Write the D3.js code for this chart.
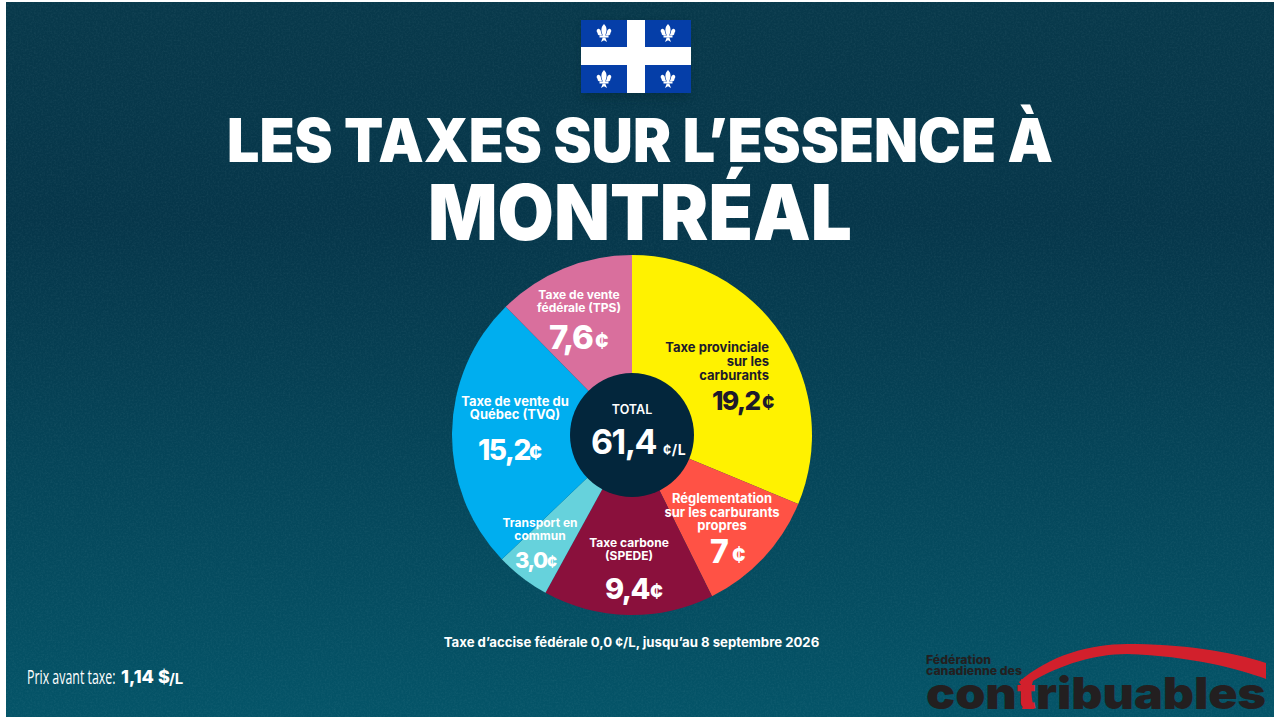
<!DOCTYPE html>
<html>
<head>
<meta charset="utf-8">
<style>
html, body { margin: 0; padding: 0; background: #fff; overflow: hidden; }
svg { display: block; }
text { font-family: Inter, "Noto Sans", sans-serif; }
</style>
</head>
<body>
<script src="https://cdn.jsdelivr.net/npm/d3@7"></script>
<script>
var categories = ["Taxe provinciale sur les carburants", "Réglementation sur les carburants propres",
  "Taxe carbone (SPEDE)", "Transport en commun", "Taxe de vente du Québec (TVQ)", "Taxe de vente fédérale (TPS)"];
var values = [19.2, 7, 9.4, 3.0, 15.2, 7.6];
var valueLabels = ["19,2", "7", "9,4", "3,0", "15,2", "7,6"];
var colors = ["#fff200", "#ff5245", "#8a103c", "#66d2dc", "#00aeef", "#d96f9d"];
var textColors = ["#1d1a2b", "#fff", "#fff", "#fff", "#fff", "#fff"];
var labelLines = [
  ["Taxe provinciale", "sur les", "carburants"],
  ["Réglementation", "sur les carburants", "propres"],
  ["Taxe carbone", "(SPEDE)"],
  ["Transport en", "commun"],
  ["Taxe de vente du", "Québec (TVQ)"],
  ["Taxe de vente", "fédérale (TPS)"]
];

var width = 1280, height = 720;
var cx = 632, cy = 435, outer = 180, inner = 62;

var svg = d3.select("body").append("svg")
    .attr("width", width)
    .attr("height", height);

var defs = svg.append("defs");
var bg = defs.append("linearGradient").attr("id", "bg")
    .attr("x1", 0).attr("y1", 0).attr("x2", 0).attr("y2", 1);
bg.append("stop").attr("offset", "0%").attr("stop-color", "#08394b");
bg.append("stop").attr("offset", "30%").attr("stop-color", "#06364a");
bg.append("stop").attr("offset", "100%").attr("stop-color", "#045468");

var grain = defs.append("filter").attr("id", "grain")
    .attr("x", 0).attr("y", 0).attr("width", 1).attr("height", 1);
grain.append("feTurbulence").attr("type", "fractalNoise")
    .attr("baseFrequency", 0.55).attr("numOctaves", 2).attr("seed", 4);
grain.append("feColorMatrix").attr("type", "matrix")
    .attr("values", "0 0 0 0 0.5  0 0 0 0 0.7  0 0 0 0 0.75  1.1 0 0 0 -0.42");

var shade = defs.append("filter").attr("id", "shade")
    .attr("x", "-20%").attr("y", "-20%").attr("width", "140%").attr("height", "150%");
shade.append("feGaussianBlur").attr("stdDeviation", 5);

svg.append("rect")
    .attr("x", 6).attr("y", 2)
    .attr("width", 1268).attr("height", 715)
    .attr("fill", "url(#bg)");
svg.append("rect")
    .attr("x", 6).attr("y", 2)
    .attr("width", 1268).attr("height", 715)
    .attr("filter", "url(#grain)")
    .attr("opacity", 0.11);

// flag
var flag = svg.append("g").attr("transform", "translate(581,20)");
flag.append("rect").attr("x", 2).attr("y", 5).attr("width", 106).attr("height", 73)
    .attr("fill", "#04202c").attr("opacity", 0.35).attr("filter", "url(#shade)");
flag.append("rect").attr("width", 110).attr("height", 73).attr("fill", "#053ea8");
flag.append("rect").attr("x", 46).attr("width", 18).attr("height", 73).attr("fill", "#fff");
flag.append("rect").attr("y", 27).attr("width", 110).attr("height", 18).attr("fill", "#fff");
[[23, 13.5], [87, 13.5], [23, 59.5], [87, 59.5]].forEach(function(p) {
  var g = flag.append("g").attr("transform", "translate(" + p[0] + "," + p[1] + ")")
      .attr("fill", "#fff");
  g.append("path").attr("d", "M0,-9.5C3,-6.5 3.2,-3 1.5,1L1.5,3L-1.5,3L-1.5,1C-3.2,-3 -3,-6.5 0,-9.5Z");
  g.append("path").attr("d", "M1.4,2C3.4,-0.5 2.6,-3.8 4.8,-4.6C7.4,-5.2 8,-1.8 6.4,-0.6C6.6,1.4 4.6,2.6 1.4,2Z");
  g.append("path").attr("d", "M-1.4,2C-3.4,-0.5 -2.6,-3.8 -4.8,-4.6C-7.4,-5.2 -8,-1.8 -6.4,-0.6C-6.6,1.4 -4.6,2.6 -1.4,2Z");
  g.append("rect").attr("x", -4.5).attr("y", 2.4).attr("width", 9).attr("height", 1.6);
  g.append("path").attr("d", "M-1.3,4L1.3,4L3,8.5L0,6.8L-3,8.5Z");
});

// titles
svg.append("text")
    .attr("x", 227).attr("y", 162)
    .attr("textLength", 826).attr("lengthAdjust", "spacingAndGlyphs")
    .attr("fill", "#fff")
    .style("font-size", "60px")
    .style("font-weight", 900)
    .text("LES TAXES SUR L’ESSENCE À");
svg.append("text")
    .attr("x", 428).attr("y", 240)
    .attr("textLength", 424).attr("lengthAdjust", "spacingAndGlyphs")
    .attr("fill", "#fff")
    .style("font-size", "77px")
    .style("font-weight", 900)
    .text("MONTRÉAL");

// pie
var pie = d3.pie().sort(null)(values);
var arc = d3.arc().innerRadius(0).outerRadius(outer);

var chart = svg.append("g").attr("transform", "translate(" + cx + "," + cy + ")");
chart.selectAll("path.slice")
    .data(pie)
  .enter().append("path")
    .attr("class", "slice")
    .attr("d", arc)
    .attr("fill", function(d, i) { return colors[i]; });

chart.append("circle").attr("r", inner).attr("fill", "#03263c");

// slice labels, vx is the left edge of the number, cx the left edge of the cent sign
var labelPos = [
  { x: 769, y: 352, lh: 14, anchor: "end", vx: 712, cx: 762, vy: 410, size: 13 },
  { x: 722, y: 503, lh: 13.5, anchor: "middle", vx: 710, cx: 732, vy: 563, size: 13 },
  { x: 629, y: 547, lh: 13, anchor: "middle", vx: 605, cx: 650, vy: 599, size: 12 },
  { x: 540, y: 527, lh: 13, anchor: "middle", vx: 515, cx: 547, vy: 568, size: 12 },
  { x: 515, y: 406, lh: 13, anchor: "middle", vx: 478, cx: 529, vy: 460, size: 13 },
  { x: 579, y: 299, lh: 12.5, anchor: "middle", vx: 549, cx: 595, vy: 349, size: 12 }
];
var valueSizes = [26, 32, 29, 22, 28, 33];
var centSizes = [21, 23, 22, 17, 22, 23];

labelLines.forEach(function(lines, i) {
  var p = labelPos[i];
  lines.forEach(function(line, j) {
    svg.append("text")
        .attr("x", p.x).attr("y", p.y + j * p.lh)
        .attr("text-anchor", p.anchor)
        .attr("fill", textColors[i])
        .style("font-size", p.size + "px")
        .style("font-weight", 700)
        .text(line);
  });
  svg.append("text")
      .attr("x", p.vx).attr("y", p.vy)
      .attr("fill", textColors[i])
      .style("font-size", valueSizes[i] + "px")
      .style("font-weight", 800)
      .style("letter-spacing", "-1.5px")
      .text(valueLabels[i]);
  svg.append("text")
      .attr("x", p.cx).attr("y", p.vy)
      .attr("fill", textColors[i])
      .style("font-size", centSizes[i] + "px")
      .style("font-weight", 800)
      .text("¢");
});

// centre
svg.append("text").attr("x", 632).attr("y", 414).attr("text-anchor", "middle")
    .attr("fill", "#fff").style("font-size", "12.5px").style("font-weight", 600).text("TOTAL");
svg.append("text").attr("x", 591).attr("y", 454)
    .attr("fill", "#fff").style("font-size", "34px").style("font-weight", 700)
    .style("letter-spacing", "-1.5px").text("61,4");
svg.append("text").attr("x", 663).attr("y", 455)
    .attr("fill", "#fff").style("font-size", "14px").style("font-weight", 700)
    .style("letter-spacing", "0.5px").text("¢/L");

svg.append("text").attr("x", 631.5).attr("y", 647).attr("text-anchor", "middle")
    .attr("fill", "#fff").style("font-size", "13.2px").style("font-weight", 700)
    .text("Taxe d’accise fédérale 0,0 ¢/L, jusqu’au 8 septembre 2026");

// bottom left, squeezed because no condensed face is installed
svg.append("text").attr("transform", "translate(27,684) scale(0.62,1)").attr("fill", "#fff")
    .style("font-family", '"Open Sans", sans-serif')
    .style("font-size", "20px")
    .text("Prix avant taxe:");
svg.append("text").attr("x", 121).attr("y", 683).attr("fill", "#fff")
    .style("font-weight", 800).style("font-size", "18px").text("1,14 $");
svg.append("text").attr("x", 169).attr("y", 684).attr("fill", "#fff")
    .style("font-weight", 700).style("font-size", "15px").text("/L");

// logo
var logo = "#231f20", logoRed = "#d2202c";
svg.append("text").attr("x", 926).attr("y", 664).attr("fill", logo)
    .attr("textLength", 65).attr("lengthAdjust", "spacingAndGlyphs")
    .style("font-size", "11.5px").style("font-weight", 800).text("Fédération");
svg.append("text").attr("x", 926).attr("y", 675).attr("fill", logo)
    .attr("textLength", 96).attr("lengthAdjust", "spacingAndGlyphs")
    .style("font-size", "11.5px").style("font-weight", 800).text("canadienne des");
var word = svg.append("text").attr("x", 926).attr("y", 709).attr("fill", logo)
    .attr("textLength", 340).attr("lengthAdjust", "spacingAndGlyphs")
    .style("font-size", "44px").style("font-weight", 900);
word.append("tspan").text("con");
word.append("tspan").attr("fill", logoRed).text("t");
word.append("tspan").text("ribuables");
svg.append("path")
    .attr("fill", logoRed)
    .attr("d", "M1266,663L1266,679C1240,669 1190,656 1127,654C1095,654 1060,665 1033,681C1030,690 1032,700 1034,709L1022,709C1026,700 1025,690 1019,682C1050,655 1090,644 1127,644C1180,644 1230,651 1266,663Z");
</script>
</body>
</html>
